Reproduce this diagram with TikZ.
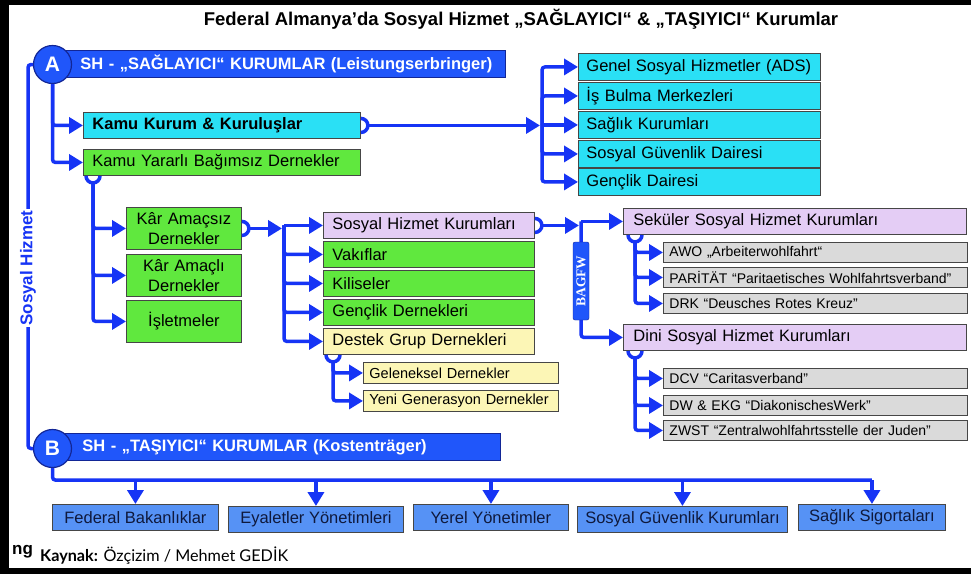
\documentclass[tikz,border=0pt]{standalone}
\usepackage{fontspec}
\setmainfont{Liberation Sans}
\newfontfamily\bagfont{Liberation Serif}
\newfontfamily\srcfont{Lato}
\usetikzlibrary{arrows.meta,positioning}
\definecolor{lineblue}{RGB}{22,52,245}
\definecolor{barblue}{RGB}{32,86,250}
\definecolor{bardark}{RGB}{18,38,150}
\definecolor{boxline}{RGB}{70,70,70}
\definecolor{kcyan}{RGB}{42,224,245}
\definecolor{kgreen}{RGB}{96,232,62}
\definecolor{klila}{RGB}{228,205,245}
\definecolor{kyellow}{RGB}{252,246,182}
\definecolor{kgrey}{RGB}{218,218,218}
\definecolor{kbottom}{RGB}{86,146,245}
\definecolor{ktext}{RGB}{15,25,60}

\begin{document}
\begin{tikzpicture}[x=1pt, y=-1pt, every node/.style={inner ysep=0pt, font=\fontsize{16.5}{20}\selectfont}, conn/.style={draw=lineblue, line width=3.5pt, rounded corners=3pt}, arr/.style={conn, -{Triangle[length=14pt,width=16pt]}}]
	\tikzstyle{hdrbar} = [anchor=west, fill=barblue, draw=bardark, line width=0.8pt, minimum height=27pt, inner xsep=0pt, align=left, text=white, font=\bfseries\fontsize{16.5}{20}\selectfont]
	\tikzstyle{hdrcircle} = [circle, fill=barblue, draw=bardark, line width=1.2pt, minimum size=38pt, inner sep=0pt, text=white, font=\bfseries\fontsize{21}{21}\selectfont]
	\tikzstyle{box} = [draw=boxline, line width=0.9pt, anchor=north west, align=left, inner xsep=9pt]
	\tikzstyle{kamubox} = [box, text width=259pt, minimum height=26pt]
	\tikzstyle{listbox} = [box, fill=kcyan, inner xsep=8pt, text width=226pt, minimum height=27pt]
	\tikzstyle{karbox} = [box, fill=kgreen, text width=97pt, minimum height=42pt, align=center]
	\tikzstyle{midbox} = [box, text width=193pt, minimum height=26pt]
	\tikzstyle{subbox} = [box, fill=kyellow, inner xsep=6pt, text width=183pt, minimum height=21pt, font=\fontsize{14.5}{16}\selectfont]
	\tikzstyle{lilabox} = [box, fill=klila, inner xsep=10pt, text width=323pt, minimum height=26pt]
	\tikzstyle{greybox} = [box, fill=kgrey, inner xsep=6pt, text width=292pt, minimum height=20pt, font=\fontsize{14}{16}\selectfont]
	\tikzstyle{altbox} = [draw=boxline, line width=0.9pt, fill=kbottom, text=ktext, anchor=north west, minimum height=26pt, align=center]
	\tikzstyle{bagfw} = [rotate=90, fill=barblue, draw=bardark, rounded corners=2pt, minimum width=78pt, minimum height=16pt, inner sep=0pt, text=white, font=\bagfont\bfseries\fontsize{13.5}{14}\selectfont]
	% frame
	\useasboundingbox (0,0) rectangle (971,574);
	\fill[white] (0,0) rectangle (971,574);
	\fill[black] (0,0) rectangle (971,5);
	\fill[black] (0,0) rectangle (9,574);
	\fill[black] (0,568) rectangle (971,574);
	\node[font=\bfseries\fontsize{18.5}{20}\selectfont] (title) at (521,19) {Federal Almanya’da Sosyal Hizmet „SAĞLAYICI“ \& „TAŞIYICI“ Kurumlar};
	% A - Saglayici
	\node[hdrbar, text width=460pt] (sha) at (45,64) {\hspace*{35pt}SH - „SAĞLAYICI“ KURUMLAR (Leistungserbringer)};
	\node[hdrcircle] (ca) at (52.5,64.5) {A};
	\node[kamubox, fill=kcyan, font=\bfseries\fontsize{16.5}{20}\selectfont] (kk) at (83,112) {Kamu Kurum \& Kuruluşlar};
	\node[kamubox, fill=kgreen] (ky) at (83,149) {Kamu Yararlı Bağımsız Dernekler};
	\node[listbox] (ads) at (578,53) {Genel Sosyal Hizmetler (ADS)};
	\node[listbox] (isb) at (578,82) {İş Bulma Merkezleri};
	\node[listbox] (sag) at (578,111) {Sağlık Kurumları};
	\node[listbox] (sgd) at (578,140) {Sosyal Güvenlik Dairesi};
	\node[listbox] (gen) at (578,168) {Gençlik Dairesi};
	\node[karbox] (kas) at (126,207) {Kâr Amaçsız\\Dernekler};
	\node[karbox] (kal) at (126,254) {Kâr Amaçlı\\Dernekler};
	\node[karbox] (isl) at (126,300) {İşletmeler};
	\node[midbox, fill=klila] (shk) at (323,212) {Sosyal Hizmet Kurumları};
	\node[midbox, fill=kgreen] (vak) at (323,241) {Vakıflar};
	\node[midbox, fill=kgreen] (kil) at (323,270) {Kiliseler};
	\node[midbox, fill=kgreen] (gde) at (323,299) {Gençlik Dernekleri};
	\node[midbox, fill=kyellow] (dgd) at (323,328) {Destek Grup Dernekleri};
	\node[subbox] (gel) at (363,362) {Geleneksel Dernekler};
	\node[subbox] (yen) at (363,390) {Yeni Generasyon Dernekler};
	\node[lilabox] (sek) at (623,208) {Seküler Sosyal Hizmet Kurumları};
	\node[greybox] (awo) at (663,242) {AWO „Arbeiterwohlfahrt“};
	\node[greybox] (par) at (663,267) {PARİTÄT “Paritaetisches Wohlfahrtsverband”};
	\node[greybox] (drk) at (663,293) {DRK “Deusches Rotes Kreuz”};
	\node[lilabox] (din) at (623,324) {Dini Sosyal Hizmet Kurumları};
	\node[greybox] (dcv) at (663,368) {DCV “Caritasverband”};
	\node[greybox] (dwe) at (663,395) {DW \& EKG “DiakonischesWerk”};
	\node[greybox] (zws) at (663,420) {ZWST “Zentralwohlfahrtsstelle der Juden”};
	% B - Tasiyici
	\node[hdrbar, text width=455pt] (shb) at (45,447) {\hspace*{37pt}SH - „TAŞIYICI“ KURUMLAR (Kostenträger)};
	\node[hdrcircle] (cb) at (52.5,448.5) {B};
	\node[altbox, minimum width=166pt] (fba) at (52,504) {Federal Bakanlıklar};
	\node[altbox, minimum width=175pt] (eya) at (228,506) {Eyaletler Yönetimleri};
	\node[altbox, minimum width=155pt] (yer) at (413,504) {Yerel Yönetimler};
	\node[altbox, minimum width=210pt] (sgk) at (577,506) {Sosyal Güvenlik Kurumları};
	\node[altbox, minimum width=147pt] (sig) at (798,504) {Sağlık Sigortaları};
	% connectors
	\coordinate (shc) at (28,268);
	\draw[conn] (ca.west) -| (shc) |- (cb.west);
	\node[rotate=90, fill=white, inner xsep=1pt, text=lineblue, font=\bfseries\fontsize{17}{18}\selectfont] (shl) at (shc) {Sosyal Hizmet};
	\draw[arr] (ca.south) |- (kk.west);
	\draw[arr] (ca.south) |- (ky.west);
	\draw[conn] ([yshift=7pt]kk.east) arc (90:-90:7pt);
	\coordinate (b1) at ([xshift=-36pt]sag.west);
	\draw[arr, shorten >=2pt] ([xshift=7pt]kk.east) -- (kk.east -| b1);
	\draw[arr] (b1) |- (ads.west);
	\draw[arr] (b1) |- (isb.west);
	\draw[arr] (b1) -- (sag.west);
	\draw[arr] (b1) |- (sgd.west);
	\draw[arr] (b1) |- (gen.west);
	\draw[conn] ([xshift=3pt]ky.south west) arc (180:360:7pt);
	\coordinate (b2) at ([xshift=10pt,yshift=-7pt]ky.south west);
	\draw[arr] (b2) |- (kas.west);
	\draw[arr] (b2) |- (kal.west);
	\draw[arr] (b2) |- (isl.west);
	\draw[conn] ([yshift=7pt]kas.east) arc (90:-90:7pt);
	\coordinate (b3) at ([xshift=-39pt]shk.west);
	\draw[arr, shorten >=2pt] ([xshift=7pt]kas.east) -- (kas.east -| b3);
	\draw[arr] (b3) -- (shk.west);
	\draw[arr] (b3) |- (vak.west);
	\draw[arr] (b3) |- (kil.west);
	\draw[arr] (b3) |- (gde.west);
	\draw[arr] (b3) |- (dgd.west);
	\draw[conn] ([xshift=3pt]dgd.south west) arc (180:360:7pt);
	\coordinate (b4) at ([xshift=10pt,yshift=-7pt]dgd.south west);
	\draw[arr] (b4) |- (gel.west);
	\draw[arr] (b4) |- (yen.west);
	\draw[conn] ([yshift=7pt]shk.east) arc (90:-90:7pt);
	\coordinate (b5) at ([xshift=-42pt]sek.west);
	\draw[arr, shorten >=2pt] ([xshift=7pt]shk.east) -- (shk.east -| b5);
	\draw[arr] (b5) -- (sek.west);
	\draw[arr] (b5) |- (din.west);
	\node[bagfw] (bag) at (581,281) {BAGFW};
	\draw[conn] ([xshift=5pt]sek.south west) arc (180:360:7pt);
	\coordinate (b6) at ([xshift=12pt,yshift=-7pt]sek.south west);
	\draw[arr] (b6) |- (awo.west);
	\draw[arr] (b6) |- (par.west);
	\draw[arr] (b6) |- (drk.west);
	\draw[conn] ([xshift=5pt]din.south west) arc (180:360:7pt);
	\coordinate (b7) at ([xshift=12pt,yshift=-7pt]din.south west);
	\draw[arr] (b7) |- (dcv.west);
	\draw[arr] (b7) |- (dwe.west);
	\draw[arr] (b7) |- (zws.west);
	\coordinate (b8) at ([yshift=-12pt]cb.south);
	\draw[conn] (cb.south) |- (b8 -| sig.north);
	\draw[arr] (b8 -| fba.north) -- (fba.north);
	\draw[arr] (b8 -| eya.north) -- (eya.north);
	\draw[arr] (b8 -| yer.north) -- (yer.north);
	\draw[arr] (b8 -| sgk.north) -- (sgk.north);
	\draw[arr] (b8 -| sig.north) -- (sig.north);
	% source
	\node[anchor=west, inner sep=0pt, font=\bfseries\fontsize{17}{17}\selectfont] (logo) at (12,552) {ng};
	\node[anchor=base west, inner sep=0pt, font=\srcfont\fontsize{16.2}{17}\selectfont] (src) at (40,561) {\textbf{Kaynak:} Özçizim / Mehmet GEDİK};
\end{tikzpicture}
\end{document}
